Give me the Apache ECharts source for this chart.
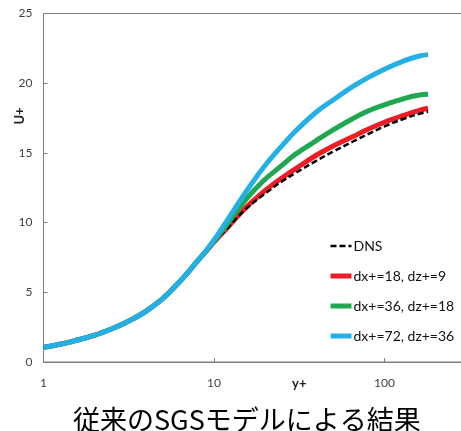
<!DOCTYPE html>
<html>
<head>
<meta charset="utf-8">
<script src="https://cdn.jsdelivr.net/npm/echarts@6/dist/echarts.min.js"></script>
<style>
  html, body { margin: 0; padding: 0; background: #fff; }
  #chart { width: 461px; height: 431px; }
</style>
</head>
<body>
<div id="chart"></div>
<script>
// y+ sample points (log axis) and U+ values
const yPlus = [1, 1.25, 1.5, 2, 2.5, 3, 3.5, 4, 5, 6, 7, 8, 9, 10, 12, 15, 19.5, 25, 30, 40, 50, 65, 80, 100, 130, 160, 180];
const uDNS  = [1.05, 1.27, 1.5, 1.93, 2.37, 2.8, 3.22, 3.65, 4.55, 5.5, 6.4, 7.25, 7.95, 8.55, 9.6, 10.85, 12.0, 12.95, 13.55, 14.45, 15.1, 15.8, 16.35, 16.9, 17.45, 17.8, 17.95];
const uDx18 = [1.05, 1.27, 1.5, 1.93, 2.37, 2.8, 3.22, 3.65, 4.55, 5.5, 6.4, 7.25, 7.95, 8.6, 9.65, 10.95, 12.2, 13.2, 13.85, 14.85, 15.5, 16.15, 16.7, 17.2, 17.7, 18.05, 18.2];
const uDx36 = [1.05, 1.27, 1.5, 1.93, 2.37, 2.8, 3.22, 3.65, 4.55, 5.5, 6.4, 7.25, 7.95, 8.65, 9.9, 11.5, 13.0, 14.1, 14.9, 15.9, 16.65, 17.45, 18.0, 18.45, 18.9, 19.15, 19.2];
const uDx72 = [1.05, 1.27, 1.5, 1.93, 2.37, 2.8, 3.22, 3.65, 4.55, 5.5, 6.4, 7.25, 8.0, 8.75, 10.2, 12.0, 13.95, 15.5, 16.55, 17.95, 18.8, 19.75, 20.4, 21.0, 21.6, 21.95, 22.05];

const seriesNames = ["DNS", "dx+=18, dz+=9", "dx+=36, dz+=18", "dx+=72, dz+=36"];
const yTicks = [0, 5, 10, 15, 20, 25];

function pairs(vals) {
    return yPlus.map(function (x, i) { return [x, vals[i]]; });
}

var myChart = echarts.init(document.getElementById("chart"));
var option;

const axisColor = "#7f7f7f";
const labelFont = "Lato, 'Liberation Sans', sans-serif";

option = {
    animation: false,
    title: {
        text: "従来のSGSモデルによる結果",
        left: 68,
        top: 401,
        textStyle: {
            fontFamily: "'Noto Sans CJK JP', sans-serif",
            fontSize: 27,
            fontWeight: "normal",
            color: "#000"
        }
    },
    graphic: [
        {
            type: "text",
            x: 20,
            y: 116,
            rotation: Math.PI / 2,
            style: {
                text: "U+",
                font: "bold 13px " + labelFont,
                fill: "#222",
                align: "center",
                verticalAlign: "middle"
            }
        }
    ],
    grid: {
        left: 43.5,
        top: 13.5,
        bottom: 69,
        right: -94,
        show: true,
        borderColor: axisColor,
        borderWidth: 1,
        outerBoundsMode: "none"
    },
    legend: {
        data: seriesNames,
        orient: "vertical",
        left: 323,
        top: 234,
        itemWidth: 21,
        itemHeight: 5,
        itemGap: 16,
        itemStyle: { opacity: 0 },
        lineStyle: { width: "inherit" },
        textStyle: {
            fontFamily: labelFont,
            fontSize: 14,
            color: "#111",
            padding: [0, 0, 0, -3]
        }
    },
    xAxis: {
        type: "log",
        logBase: 10,
        min: 1,
        max: 1000,
        name: "y+",
        nameLocation: "middle",
        nameGap: 15,
        nameMoveOverlap: false,
        nameTextStyle: {
            fontFamily: labelFont,
            fontSize: 13,
            fontWeight: "bold",
            color: "#222"
        },
        axisLine: { lineStyle: { color: axisColor, width: 1 } },
        axisTick: { inside: true, length: 4, lineStyle: { color: axisColor } },
        minorTick: { show: false },
        splitLine: { show: false },
        axisLabel: {
            margin: 15,
            fontFamily: labelFont,
            fontSize: 12,
            color: "#404040"
        }
    },
    yAxis: {
        type: "value",
        min: yTicks[0],
        max: yTicks[yTicks.length - 1],
        interval: 5,
        axisLine: { show: true, lineStyle: { color: axisColor, width: 1 } },
        axisTick: { show: true, inside: true, length: 4, lineStyle: { color: axisColor } },
        splitLine: { show: false },
        axisLabel: {
            margin: 11,
            fontFamily: labelFont,
            fontSize: 12,
            color: "#404040"
        }
    },
    series: [
        {
            name: seriesNames[1],
            type: "line",
            data: pairs(uDx18),
            smooth: 0.4,
            showSymbol: false,
            symbol: "none",
            color: "#ee1c25",
            lineStyle: { width: 5, color: "#ee1c25" }
        },
        {
            name: seriesNames[0],
            type: "line",
            data: pairs(uDNS),
            smooth: 0.4,
            showSymbol: false,
            symbol: "none",
            color: "#000",
            lineStyle: { width: 2.5, color: "#000", type: [6, 3] }
        },
        {
            name: seriesNames[2],
            type: "line",
            data: pairs(uDx36),
            smooth: 0.4,
            showSymbol: false,
            symbol: "none",
            color: "#1fa84f",
            lineStyle: { width: 5, color: "#1fa84f" }
        },
        {
            name: seriesNames[3],
            type: "line",
            data: pairs(uDx72),
            smooth: 0.4,
            showSymbol: false,
            symbol: "none",
            color: "#24b0e4",
            lineStyle: { width: 5, color: "#24b0e4" }
        }
    ]
};

option && myChart.setOption(option);
</script>
</body>
</html>
